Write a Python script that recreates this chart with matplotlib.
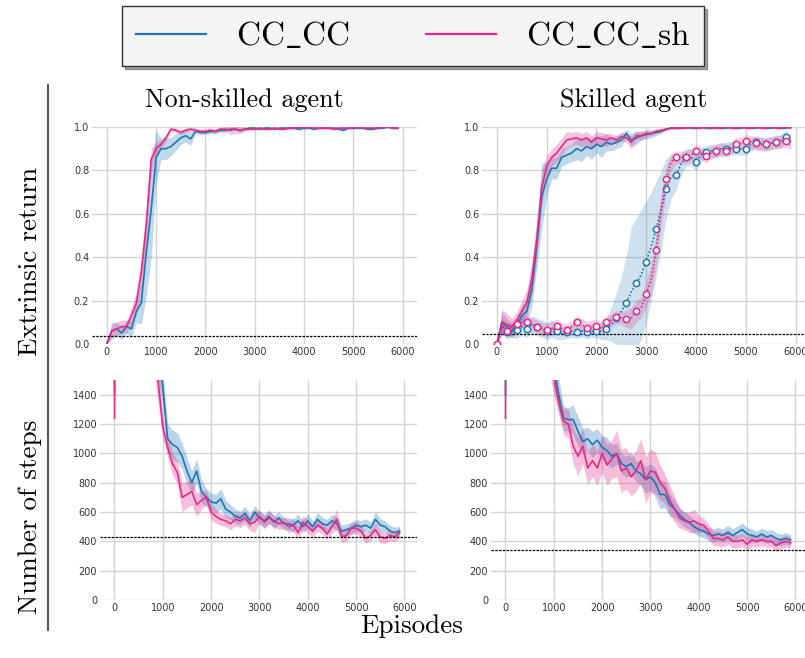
import numpy as np
import matplotlib
matplotlib.use("Agg")
import matplotlib.pyplot as plt

# colours
BLUE = '#1f77b4'
PINK = '#e7298a'

# episode grids
episodes = list(range(0, 6000, 100))                # returns
step_episodes = [0, 10] + list(range(100, 6000, 100))  # number of steps

# ---- Non-skilled agent, extrinsic return ----
ns_ret_cc = [0.00, 0.06, 0.07, 0.05, 0.08, 0.07, 0.15, 0.19, 0.42, 0.62,
             0.86, 0.90, 0.90, 0.91, 0.93, 0.95, 0.96, 0.945, 0.98, 0.975,
             0.975, 0.98, 0.98, 0.985, 0.985, 0.99, 0.99, 0.985, 0.99, 0.995,
             0.995, 0.99, 0.995, 0.995, 0.99, 0.995, 0.995, 0.995, 0.995, 0.99,
             0.995, 0.995, 0.99, 0.995, 0.995, 0.995, 0.995, 0.99, 0.985, 0.995,
             0.995, 0.995, 0.995, 0.99, 0.99, 0.995, 0.995, 1.0, 0.995, 0.995]
ns_ret_cc_sd = [0.0, 0.04, 0.03, 0.03, 0.03, 0.04, 0.05, 0.10, 0.20, 0.22,
                0.12, 0.05, 0.05, 0.04, 0.04, 0.03, 0.03, 0.03, 0.01, 0.01,
                0.01, 0.01, 0.01, 0.01, 0.01, 0.005, 0.005, 0.01, 0.005, 0.005,
                0.005, 0.005, 0.005, 0.005, 0.005, 0.005, 0.005, 0.005, 0.005, 0.005,
                0.005, 0.005, 0.005, 0.005, 0.005, 0.005, 0.005, 0.005, 0.005, 0.005,
                0.005, 0.005, 0.005, 0.005, 0.005, 0.005, 0.005, 0.005, 0.005, 0.005]
ns_ret_sh = [0.00, 0.06, 0.07, 0.08, 0.08, 0.13, 0.19, 0.33, 0.55, 0.85,
             0.90, 0.92, 0.95, 0.99, 0.985, 0.975, 0.985, 0.99, 0.985, 0.98,
             0.98, 0.985, 0.98, 0.99, 0.99, 0.985, 0.99, 0.985, 0.99, 0.99,
             0.99, 0.995, 0.99, 0.99, 0.995, 0.99, 0.99, 0.995, 0.995, 1.0,
             0.995, 1.0, 0.995, 0.995, 0.995, 0.995, 0.99, 0.995, 0.995, 0.995,
             0.995, 1.0, 0.995, 0.995, 0.995, 0.995, 1.0, 1.0, 0.995, 0.995]
ns_ret_sh_sd = [0.0, 0.03, 0.03, 0.03, 0.03, 0.04, 0.05, 0.08, 0.08, 0.05,
                0.03, 0.02, 0.015, 0.01, 0.01, 0.01, 0.01, 0.01, 0.01, 0.01,
                0.01, 0.01, 0.01, 0.01, 0.01, 0.02, 0.02, 0.015, 0.01, 0.005,
                0.005, 0.005, 0.005, 0.005, 0.005, 0.005, 0.005, 0.005, 0.005, 0.005,
                0.005, 0.005, 0.005, 0.005, 0.005, 0.005, 0.005, 0.005, 0.005, 0.005,
                0.005, 0.005, 0.005, 0.005, 0.005, 0.005, 0.005, 0.005, 0.005, 0.005]
ns_ret_baseline = 0.035

# ---- Skilled agent, extrinsic return ----
sk_ret_cc = [0.00, 0.10, 0.08, 0.06, 0.09, 0.13, 0.15, 0.25, 0.45, 0.68,
             0.76, 0.81, 0.81, 0.86, 0.87, 0.88, 0.90, 0.89, 0.91, 0.90,
             0.92, 0.91, 0.93, 0.92, 0.93, 0.94, 0.97, 0.94, 0.95, 0.96,
             0.965, 0.97, 0.975, 0.98, 0.99, 0.995, 0.995, 0.995, 1.0, 0.995,
             0.995, 1.0, 0.995, 0.995, 1.0, 0.995, 0.995, 1.0, 0.995, 0.995,
             1.0, 0.995, 0.995, 1.0, 0.995, 0.995, 1.0, 0.995, 0.995, 1.0]
sk_ret_cc_sd = [0.0, 0.05, 0.04, 0.03, 0.04, 0.05, 0.06, 0.08, 0.10, 0.15,
                0.08, 0.05, 0.05, 0.04, 0.04, 0.04, 0.05, 0.05, 0.04, 0.05,
                0.04, 0.05, 0.04, 0.03, 0.03, 0.03, 0.02, 0.03, 0.03, 0.02,
                0.02, 0.02, 0.015, 0.01, 0.005, 0.005, 0.005, 0.005, 0.005, 0.005,
                0.005, 0.005, 0.005, 0.005, 0.005, 0.005, 0.005, 0.005, 0.005, 0.005,
                0.005, 0.005, 0.005, 0.005, 0.005, 0.005, 0.005, 0.005, 0.005, 0.005]
sk_ret_sh = [0.00, 0.10, 0.09, 0.08, 0.11, 0.15, 0.19, 0.30, 0.48, 0.72,
             0.82, 0.86, 0.88, 0.91, 0.94, 0.945, 0.95, 0.94, 0.95, 0.93,
             0.95, 0.945, 0.94, 0.95, 0.94, 0.955, 0.95, 0.93, 0.96, 0.96,
             0.97, 0.97, 0.98, 0.985, 0.99, 0.995, 0.995, 0.995, 0.995, 1.0,
             0.995, 0.995, 1.0, 0.995, 0.995, 0.995, 1.0, 0.995, 0.995, 1.0,
             0.995, 0.995, 1.0, 0.995, 0.995, 1.0, 0.995, 0.995, 1.0, 0.995]
sk_ret_sh_sd = [0.0, 0.06, 0.05, 0.04, 0.04, 0.05, 0.06, 0.08, 0.10, 0.08,
                0.05, 0.04, 0.04, 0.04, 0.04, 0.03, 0.03, 0.03, 0.03, 0.03,
                0.03, 0.03, 0.03, 0.02, 0.02, 0.02, 0.02, 0.03, 0.02, 0.02,
                0.015, 0.01, 0.01, 0.01, 0.005, 0.005, 0.005, 0.005, 0.005, 0.005,
                0.005, 0.005, 0.005, 0.005, 0.005, 0.005, 0.005, 0.005, 0.005, 0.005,
                0.005, 0.005, 0.005, 0.005, 0.005, 0.005, 0.005, 0.005, 0.005, 0.005]
# dotted runs with circle markers
sk_ret_cc_dot = [0.00, 0.08, 0.055, 0.06, 0.066, 0.08, 0.07, 0.09, 0.08, 0.07,
                 0.06, 0.07, 0.06, 0.05, 0.055, 0.06, 0.055, 0.06, 0.055, 0.06,
                 0.06, 0.06, 0.07, 0.09, 0.12, 0.15, 0.19, 0.24, 0.28, 0.32,
                 0.38, 0.45, 0.53, 0.62, 0.715, 0.77, 0.78, 0.83, 0.86, 0.86,
                 0.84, 0.87, 0.885, 0.89, 0.89, 0.895, 0.90, 0.905, 0.90, 0.90,
                 0.90, 0.92, 0.93, 0.925, 0.92, 0.925, 0.93, 0.935, 0.955, 0.935]
sk_ret_cc_dot_sd = [0.0, 0.03, 0.03, 0.03, 0.04, 0.04, 0.04, 0.04, 0.04, 0.04,
                    0.04, 0.04, 0.04, 0.03, 0.03, 0.03, 0.03, 0.03, 0.03, 0.03,
                    0.03, 0.04, 0.05, 0.08, 0.12, 0.16, 0.22, 0.30, 0.30, 0.30,
                    0.28, 0.25, 0.22, 0.18, 0.14, 0.10, 0.07, 0.05, 0.04, 0.04,
                    0.04, 0.03, 0.03, 0.03, 0.03, 0.03, 0.03, 0.03, 0.03, 0.03,
                    0.03, 0.03, 0.03, 0.03, 0.03, 0.03, 0.03, 0.03, 0.03, 0.03]
sk_ret_sh_dot = [0.00, 0.09, 0.06, 0.08, 0.09, 0.10, 0.10, 0.09, 0.08, 0.07,
                 0.065, 0.07, 0.085, 0.07, 0.065, 0.08, 0.10, 0.09, 0.075, 0.08,
                 0.085, 0.07, 0.10, 0.11, 0.125, 0.12, 0.115, 0.12, 0.15, 0.17,
                 0.23, 0.30, 0.435, 0.62, 0.76, 0.84, 0.86, 0.86, 0.86, 0.87,
                 0.89, 0.88, 0.865, 0.88, 0.89, 0.90, 0.89, 0.90, 0.92, 0.925,
                 0.935, 0.93, 0.925, 0.92, 0.92, 0.925, 0.93, 0.93, 0.935, 0.93]
sk_ret_sh_dot_sd = [0.0, 0.04, 0.03, 0.03, 0.03, 0.03, 0.03, 0.03, 0.03, 0.03,
                    0.03, 0.03, 0.03, 0.03, 0.03, 0.03, 0.03, 0.03, 0.03, 0.03,
                    0.03, 0.03, 0.03, 0.03, 0.03, 0.03, 0.04, 0.05, 0.05, 0.05,
                    0.06, 0.07, 0.08, 0.08, 0.06, 0.04, 0.03, 0.03, 0.03, 0.03,
                    0.03, 0.03, 0.03, 0.03, 0.03, 0.03, 0.03, 0.03, 0.03, 0.03,
                    0.03, 0.03, 0.03, 0.03, 0.03, 0.03, 0.03, 0.03, 0.03, 0.03]
sk_ret_baseline = 0.045

# ---- Non-skilled agent, number of steps ----
ns_steps_cc = [1400, 3200, 3150, 3050, 2950, 2800, 2600, 2400, 2100, 1850, 1650,
               1450, 1100, 1060, 1040, 980, 880, 800, 880, 740, 700,
               670, 660, 690, 620, 600, 570, 560, 590, 540, 600,
               560, 540, 570, 530, 560, 520, 520, 510, 540, 500,
               540, 500, 550, 520, 510, 540, 520, 470, 480, 490,
               510, 500, 510, 490, 550, 510, 500, 470, 460, 470]
ns_steps_cc_sd = [0, 150, 150, 150, 150, 150, 150, 150, 150, 150, 150,
                  120, 100, 100, 100, 90, 90, 80, 80, 80, 60,
                  60, 60, 70, 60, 50, 50, 45, 50, 45, 45,
                  45, 45, 45, 45, 45, 40, 40, 45, 45, 45,
                  50, 40, 45, 45, 40, 45, 45, 40, 40, 40,
                  40, 40, 45, 40, 50, 45, 40, 40, 35, 35]
ns_steps_sh = [1240, 3300, 3200, 3100, 2950, 2800, 2550, 2300, 2000, 1750, 1500,
               1180, 1040, 930, 870, 700, 720, 740, 650, 680, 700,
               600, 570, 550, 540, 520, 550, 540, 560, 520, 530,
               570, 530, 560, 540, 520, 530, 500, 510, 460, 530,
               500, 470, 510, 490, 450, 500, 550, 430, 440, 490,
               490, 470, 420, 440, 480, 430, 420, 440, 430, 460]
ns_steps_sh_sd = [550, 200, 150, 150, 150, 150, 150, 150, 150, 150, 150,
                  80, 70, 80, 80, 100, 90, 90, 80, 60, 50,
                  50, 50, 40, 40, 40, 45, 45, 45, 45, 70,
                  45, 45, 45, 40, 40, 40, 40, 45, 40, 45,
                  45, 40, 40, 40, 40, 45, 70, 40, 40, 40,
                  40, 40, 35, 35, 40, 40, 35, 35, 35, 35]
ns_steps_baseline = 430

# ---- Skilled agent, number of steps ----
sk_steps_cc = [1400, 3200, 3100, 3000, 2900, 2750, 2600, 2400, 2200, 2000, 1800,
               1600, 1400, 1240, 1230, 1230, 1150, 1080, 1100, 1060, 1090,
               1040, 1020, 980, 1000, 930, 910, 930, 880, 860, 820,
               840, 800, 720, 720, 650, 620, 580, 550, 530, 500,
               480, 470, 450, 440, 450, 440, 460, 440, 460, 480,
               450, 440, 430, 450, 430, 440, 420, 410, 420, 410]
sk_steps_cc_sd = [0, 150, 150, 150, 150, 150, 150, 150, 150, 150, 150,
                  150, 120, 80, 80, 100, 100, 90, 80, 90, 80,
                  80, 90, 80, 70, 70, 70, 80, 70, 80, 90,
                  90, 100, 100, 90, 80, 60, 50, 50, 50, 45,
                  45, 45, 45, 45, 45, 45, 50, 45, 45, 45,
                  45, 45, 40, 40, 45, 40, 40, 40, 40, 35]
sk_steps_sh = [1240, 3300, 3200, 3050, 2900, 2750, 2550, 2350, 2150, 1950, 1700,
               1520, 1350, 1220, 1200, 1050, 980, 1050, 900, 950, 900,
               1000, 920, 960, 1000, 880, 900, 840, 880, 950, 820,
               880, 870, 800, 760, 680, 620, 560, 540, 530, 540,
               520, 510, 470, 420, 420, 410, 430, 400, 400, 410,
               380, 410, 400, 410, 400, 400, 370, 390, 400, 390]
sk_steps_sh_sd = [550, 200, 150, 150, 150, 150, 150, 150, 150, 150, 150,
                  120, 80, 90, 100, 120, 130, 120, 110, 110, 120,
                  130, 140, 130, 160, 150, 140, 130, 140, 150, 160,
                  150, 140, 120, 100, 100, 90, 70, 60, 70, 80,
                  60, 50, 50, 50, 50, 50, 50, 45, 45, 45,
                  45, 45, 40, 40, 40, 40, 40, 40, 40, 40]
sk_steps_baseline = 340

plt.rcParams['font.family'] = 'DejaVu Sans'
plt.rcParams['mathtext.fontset'] = 'cm'

fig = plt.figure(figsize=(8.05, 6.58), dpi=100)
W, H = 805.0, 658.0


def add_axes(left, top, right, bottom):
    return fig.add_axes([left / W, 1 - bottom / H, (right - left) / W, (bottom - top) / H])


ax_ns_ret = add_axes(92, 127, 417, 344)
ax_sk_ret = add_axes(482, 127, 810, 344)
ax_ns_steps = add_axes(100, 380, 417, 600)
ax_sk_steps = add_axes(491, 380, 808, 600)


def style(ax):
    ax.set_facecolor('white')
    for s in ax.spines.values():
        s.set_visible(False)
    ax.grid(True, color='#d4d4d4', lw=1.0)
    ax.set_axisbelow(True)
    ax.tick_params(length=0, labelsize=7, colors='#333333', pad=2)
    ax.set_xticks([0, 1000, 2000, 3000, 4000, 5000, 6000])


def band(ax, x, m, sd, color, alpha):
    m = np.array(m, dtype=float)
    sd = np.array(sd, dtype=float)
    ax.fill_between(x, m - sd, m + sd, color=color, alpha=alpha, lw=0)


# returns
for ax, cc, cc_sd, sh, sh_sd, base in [
        (ax_ns_ret, ns_ret_cc, ns_ret_cc_sd, ns_ret_sh, ns_ret_sh_sd, ns_ret_baseline),
        (ax_sk_ret, sk_ret_cc, sk_ret_cc_sd, sk_ret_sh, sk_ret_sh_sd, sk_ret_baseline)]:
    style(ax)
    band(ax, episodes, cc, cc_sd, BLUE, 0.28)
    band(ax, episodes, sh, sh_sd, PINK, 0.28)
    ax.plot(episodes, cc, color=BLUE, lw=1.2)
    ax.plot(episodes, sh, color=PINK, lw=1.2)
    ax.axhline(base, color='black', ls=(0, (2, 1)), lw=0.9)
    ax.set_xlim(-300, 6290)
    ax.set_ylim(0, 1.0)
    ax.set_yticks([0.0, 0.2, 0.4, 0.6, 0.8, 1.0])

# dotted runs with markers on the skilled panel
band(ax_sk_ret, episodes, sk_ret_cc_dot, sk_ret_cc_dot_sd, BLUE, 0.22)
band(ax_sk_ret, episodes, sk_ret_sh_dot, sk_ret_sh_dot_sd, PINK, 0.22)
ax_sk_ret.plot(episodes, sk_ret_cc_dot, color=BLUE, lw=1.2, ls=(0, (1, 1.2)),
               marker='o', markevery=2, ms=4.5, mfc='white', mec=BLUE, mew=1.1)
ax_sk_ret.plot(episodes, sk_ret_sh_dot, color=PINK, lw=1.2, ls=(0, (1, 1.2)),
               marker='o', markevery=2, ms=4.5, mfc='white', mec=PINK, mew=1.1)

# number of steps
for ax, cc, cc_sd, sh, sh_sd, base in [
        (ax_ns_steps, ns_steps_cc, ns_steps_cc_sd, ns_steps_sh, ns_steps_sh_sd, ns_steps_baseline),
        (ax_sk_steps, sk_steps_cc, sk_steps_cc_sd, sk_steps_sh, sk_steps_sh_sd, sk_steps_baseline)]:
    style(ax)
    band(ax, step_episodes, cc, cc_sd, BLUE, 0.3)
    band(ax, step_episodes, sh, sh_sd, PINK, 0.3)
    ax.plot(step_episodes, cc, color=BLUE, lw=1.2)
    ax.plot(step_episodes, sh, color=PINK, lw=1.2)
    ax.axhline(base, color='black', ls=(0, (2, 1)), lw=0.9)
    ax.set_xlim(-300, 6260)
    ax.set_ylim(0, 1500)
    ax.set_yticks([0, 200, 400, 600, 800, 1000, 1200, 1400])

# titles and labels (LaTeX-like serif)
serif = dict(family='cmr10')
fig.text(244 / W, 1 - 100 / H, 'Non-skilled agent', ha='center', va='center', fontsize=18.8, **serif)
fig.text(634 / W, 1 - 100 / H, 'Skilled agent', ha='center', va='center', fontsize=18.8, **serif)
fig.text(30 / W, 1 - 261 / H, 'Extrinsic return', ha='center', va='center', rotation=90, fontsize=19.5, **serif)
fig.text(30 / W, 1 - 517 / H, 'Number of steps', ha='center', va='center', rotation=90, fontsize=19.5, **serif)
fig.text(412 / W, 1 - 626 / H, 'Episodes', ha='center', va='center', fontsize=19.5, **serif)

# vertical separator on the left
fig.add_artist(plt.Line2D([48 / W, 48 / W], [1 - 85 / H, 1 - 630 / H], color='#555555', lw=1.5))

# legend
handles = [plt.Line2D([], [], color=BLUE, lw=1.6), plt.Line2D([], [], color=PINK, lw=1.6)]
leg = fig.legend(handles, [r'$\mathrm{CC\_CC}$', r'$\mathrm{CC\_CC\_sh}$'],
                 loc='center', bbox_to_anchor=(413 / W, 1 - 36 / H), ncol=2,
                 fontsize=24, frameon=True, fancybox=False, shadow=True,
                 handlelength=2.1, handletextpad=0.9, columnspacing=2.3,
                 borderpad=0.4)
leg.get_frame().set_facecolor('#f4f4f4')
leg.get_frame().set_edgecolor('#333333')
leg.get_frame().set_linewidth(1.0)

fig.savefig('out.png', dpi=100)
